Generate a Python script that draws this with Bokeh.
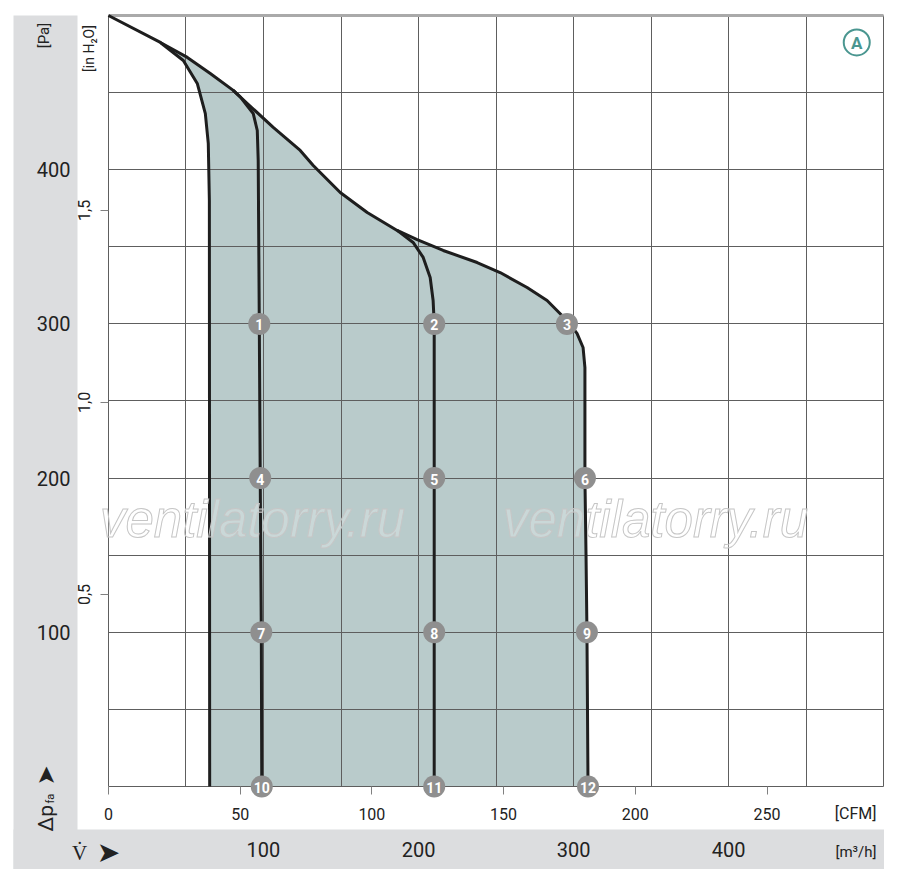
import numpy as np
from bokeh.plotting import figure
from bokeh.models import (Range1d, LinearAxis, FixedTicker, Grid, BoxAnnotation, Label,
                          CustomJSTickFormatter)
from bokeh.core.properties import value
from bokeh.embed import file_html
from bokeh.resources import INLINE

# --- data (flow in m3/h, pressure in Pa) ---
# upper envelope = curve through points 3, 6, 9, 12
env_q = [0, 33.5, 50.9, 65.7, 80.5, 89.6, 106.3, 123.7, 132.1, 149.5, 166.9, 186.2, 199.1,
         215.9, 237.8, 252.6, 270.0, 282.9, 295.7, 302.2, 306.1, 307.3, 307.3, 308.0, 308.6,
         309.3]
env_p = [500, 482.5, 472.8, 462.4, 451.4, 442.9, 427.4, 412.5, 402.7, 385.2, 372.2, 360.6, 354.7,
         347.6, 339.8, 333.3, 323.6, 315.2, 302.2, 293.8, 284.7, 271.7, 200.4, 151.1, 101.2, 0]
# left boundary of the working area
left_q = [33.5, 48.3, 57.3, 62.5, 64.4, 65.1, 65.3]
left_p = [482.5, 470.8, 455.9, 436.4, 417.0, 380.0, 0]
# curve through points 1, 4, 7, 10
c1_q = [80.5, 85.1, 93.4, 96.0, 96.6, 97.3, 97.9, 98.6, 98.9]
c1_p = [451.4, 447.0, 436.4, 425.4, 406.0, 300.3, 200.4, 100.5, 0]
# curve through points 2, 5, 8, 11
c2_q = [186.2, 188.1, 196.5, 203.0, 207.5, 209.4, 210.1, 210.1, 210.1, 210.1]
c2_p = [360.6, 359.3, 352.8, 343.1, 330.1, 315.2, 300.3, 200.4, 100.5, 0]

# operating points 1..12
pt_q = [97.3, 210.1, 295.7, 97.9, 210.1, 307.3, 98.6, 210.1, 308.6, 98.9, 210.1, 309.3]
pt_p = [300, 300, 300, 200, 200, 200, 100, 100, 100, 0, 0, 0]
pt_lbl = [str(i) for i in range(1, 13)]

grid_q = [0, 50, 100, 150, 200, 250, 300, 350, 400, 450, 500]
grid_p = [0, 50, 100, 150, 200, 250, 300, 350, 400, 450]
top_p = [500]
pa_ticks = [100, 200, 300, 400]
m3h_ticks = [100, 200, 300, 400]
cfm_ticks = [0, 50, 100, 150, 200, 250]
inh_ticks = [0.5, 1.0, 1.5]

PA_PER_INH2O = 249.089
M3H_PER_CFM = 1.69901

FONT = "Roboto"
INK = "#222222"
SHADE = "#b9cbcb"
PANEL = "#dcdddf"
GRIDC = "#5e5e5e"
DOT = "#8f8f8f"
TEAL = "#4a9690"

# the frame fills the whole canvas (884 x 869); the scales are axes pinned at q=0 / p=0
W, H = 884, 869
Q0, Q1 = -69.6, 500.5
P0, P1 = -53.8, 509.7

p = figure(width=W, height=H, x_range=Range1d(Q0, Q1), y_range=Range1d(P0, P1),
           x_axis_location=None, y_axis_location=None, toolbar_location=None,
           output_backend="svg", min_border=0, outline_line_color=None,
           background_fill_color="white", border_fill_color="white")
p.grid.visible = False
p.extra_y_ranges = {"inh": Range1d(P0 / PA_PER_INH2O, P1 / PA_PER_INH2O)}
p.extra_x_ranges = {"cfm": Range1d(Q0 / M3H_PER_CFM, Q1 / M3H_PER_CFM)}

# gray panels (left scale column, bottom flow band)
for l, r, t, b in ((13, 77, H - 15, 0), (13, 884, H - 829, 0)):
    p.add_layout(BoxAnnotation(left=l, right=r, top=t, bottom=b, left_units="screen",
                               right_units="screen", top_units="screen",
                               bottom_units="screen", fill_color=PANEL, fill_alpha=1,
                               line_color=None, level="underlay"))

# axes, all pinned to the origin of the chart box
pa = LinearAxis(ticker=FixedTicker(ticks=pa_ticks), fixed_location=0)
pa.major_tick_out = 0
pa.major_tick_in = 0
pa.major_label_standoff = 38
m3h = LinearAxis(ticker=FixedTicker(ticks=m3h_ticks), fixed_location=0)
m3h.major_tick_out = 0
m3h.major_tick_in = 0
m3h.major_label_standoff = 55
inh = LinearAxis(y_range_name="inh", ticker=FixedTicker(ticks=inh_ticks), fixed_location=0,
                 formatter=CustomJSTickFormatter(code="return tick.toFixed(1).replace('.', ',')"))
inh.major_label_orientation = "vertical"
inh.major_tick_out = 8
inh.major_tick_in = 0
inh.major_label_standoff = 10
cfm = LinearAxis(x_range_name="cfm", ticker=FixedTicker(ticks=cfm_ticks), fixed_location=0)
cfm.major_tick_out = 8
cfm.major_tick_in = 0
cfm.major_label_standoff = 13

for ax, fs in ((pa, "20px"), (m3h, "20px"), (inh, "16px"), (cfm, "16px")):
    ax.axis_line_color = None
    ax.minor_tick_line_color = None
    ax.major_tick_line_color = "#808080"
    ax.major_label_text_font = FONT
    ax.major_label_text_font_size = fs
    ax.major_label_text_color = INK

p.add_layout(pa, "left")
p.add_layout(inh, "left")
p.add_layout(m3h, "below")
p.add_layout(cfm, "below")

# grid (drawn above the shaded area), limited to the 0..500 box
for dim, ticks, col, wid in ((0, grid_q, GRIDC, 1), (1, grid_p, GRIDC, 1), (1, top_p, "#aaaaaa", 3)):
    p.add_layout(Grid(dimension=dim, ticker=FixedTicker(ticks=ticks), grid_line_color=col,
                      grid_line_width=wid, cross_bounds=(0, 500)))

# shaded working range
area_q = left_q[::-1] + env_q[1:]
area_p = left_p[::-1] + env_p[1:]
p.patch(area_q, area_p, fill_color=SHADE, line_color=None, level="image")


def lab(text, px, py, size, align="center", angle=0.0, font=FONT, color=INK, style="normal",
        **kw):
    # position given in page pixels, frame = canvas, y counted from the bottom
    p.add_layout(Label(x=px, y=H - py, x_units="screen", y_units="screen",
                       text=text, text_align=align, text_baseline="middle", angle=angle,
                       text_font=font, text_font_size=size, text_color=color,
                       text_font_style=style, **kw))


# watermark
for cx in (252, 655):
    lab("ventilatorry.ru", cx, 519, "51px", font="Liberation Sans", style="italic",
        color="rgba(255,255,255,0.25)", text_outline_color="#c6c6c6")

# curves
for xs, ys in ((env_q, env_p), (left_q, left_p), (c1_q, c1_p), (c2_q, c2_p)):
    p.line(xs, ys, line_color="#1e1e1e", line_width=3, line_join="round")

# numbered points
p.scatter(pt_q, pt_p, size=22, fill_color=DOT, line_color=None)
p.text(pt_q, pt_p, text=pt_lbl, text_align="center", text_baseline="middle", y_offset=1,
       text_color="white", text_font=value(FONT), text_font_size="14px",
       text_font_style="bold")

# badge "A"
p.scatter([482.6], [482.5], size=26, fill_color=None, line_color=TEAL, line_width=2)
p.text([482.6], [482.5], text=["A"], text_align="center", text_baseline="middle", y_offset=1,
       text_color=TEAL, text_font=value(FONT), text_font_size="17px", text_font_style="bold")

lab("[Pa]", 43, 35, "15px", angle=np.pi / 2)
lab("[in H\u2082O]", 88, 48, "14px", angle=np.pi / 2)
lab("\u0394p", 45, 831, "21px", align="left", angle=np.pi / 2)
lab("fa", 50, 803, "11px", align="left", angle=np.pi / 2)
lab("\u27a4", 45, 775, "24px", angle=np.pi / 2, font="DejaVu Sans")
lab("V\u0307", 79, 852, "21px")
lab("\u27a4", 108, 852, "28px", font="DejaVu Sans")
lab("[CFM]", 876, 813, "16px", align="right")
lab("[m\u00b3/h]", 876, 851, "15px", align="right")

open("out.html", "w").write(file_html(p, INLINE))
